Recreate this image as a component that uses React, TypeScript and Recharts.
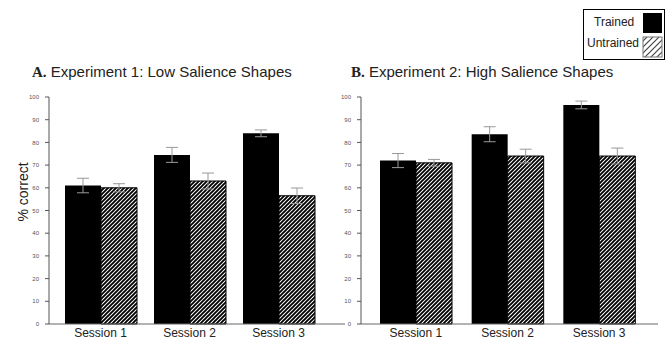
import React from "react";
import { BarChart, Bar, XAxis, YAxis, ErrorBar } from "recharts";

const sessions = ["Session 1", "Session 2", "Session 3"];

const exp1Trained = [61, 74.5, 84];
const exp1TrainedErr = [3.2, 3.3, 1.5];
const exp1Untrained = [60, 63, 56.5];
const exp1UntrainedErr = [1.8, 3.5, 3.4];

const exp2Trained = [72, 83.6, 96.5];
const exp2TrainedErr = [3.1, 3.3, 1.7];
const exp2Untrained = [71, 74, 74];
const exp2UntrainedErr = [1.5, 3, 3.5];

const yTicks = [0, 10, 20, 30, 40, 50, 60, 70, 80, 90, 100];

const SANS = "'Liberation Sans', Arial, sans-serif";
const SERIF = "'Liberation Serif', 'Times New Roman', serif";

function rows(t: number[], te: number[], u: number[], ue: number[]) {
  return sessions.map((s, i) => ({
    session: s,
    trained: t[i],
    trainedErr: te[i],
    untrained: u[i],
    untrainedErr: ue[i],
  }));
}

// "/" stripes, pixel aligned so they stay black and white
function Hatch({ id, size = 4, ink = 1.9, color = "#000" }: { id: string; size?: number; ink?: number; color?: string }) {
  const s = size;
  return (
    <defs>
      <pattern id={id} width={s} height={s} patternUnits="userSpaceOnUse">
        <rect width={s} height={s} fill="#fff" />
        <path
          d={`M0,${s} L${s},0 M${-s / 2},${s / 2} L${s / 2},${-s / 2} M${s / 2},${s * 1.5} L${s * 1.5},${s / 2}`}
          stroke={color}
          strokeWidth={ink}
        />
      </pattern>
    </defs>
  );
}

function Panel({
  data,
  id,
  left,
  margin,
  padding,
}: {
  data: ReturnType<typeof rows>;
  id: string;
  left: number;
  margin: { top: number; right: number; bottom: number; left: number };
  padding: { left: number; right: number };
}) {
  return (
    <div style={{ position: "absolute", left, top: 0 }}>
      <BarChart width={360} height={341} data={data} margin={margin} barGap={0}>
        <Hatch id={id} />
        <XAxis
          dataKey="session"
          height={17}
          padding={padding}
          tickLine={false}
          tickSize={0}
          tickMargin={4}
          stroke="#666"
          tick={{ fill: "#222", fontSize: 12, fontFamily: SANS }}
        />
        <YAxis
          domain={[0, 100]}
          ticks={yTicks}
          width={30}
          tickSize={4}
          tickMargin={6}
          stroke="#555"
          tick={{ fill: "#555", fontSize: 6, fontFamily: SANS }}
        />
        <Bar dataKey="trained" fill="#000" barSize={36} isAnimationActive={false}>
          <ErrorBar dataKey="trainedErr" width={6} stroke="#999" strokeWidth={1} />
        </Bar>
        <Bar
          dataKey="untrained"
          fill={`url(#${id})`}
          stroke="#000"
          strokeWidth={1}
          barSize={36}
          isAnimationActive={false}
        >
          <ErrorBar dataKey="untrainedErr" width={6} stroke="#999" strokeWidth={1} />
        </Bar>
      </BarChart>
    </div>
  );
}

function Title({ letter, text, left }: { letter: string; text: string; left: number }) {
  return (
    <div
      style={{
        position: "absolute",
        left,
        top: 63,
        lineHeight: "18px",
        fontSize: 15,
        color: "#222",
        whiteSpace: "nowrap",
      }}
    >
      <span style={{ fontFamily: SERIF, fontWeight: "bold" }}>{letter}</span>
      <span style={{ fontFamily: SANS }}>{text}</span>
    </div>
  );
}

export default function App() {
  const d1 = rows(exp1Trained, exp1TrainedErr, exp1Untrained, exp1UntrainedErr);
  const d2 = rows(exp2Trained, exp2TrainedErr, exp2Untrained, exp2UntrainedErr);
  return (
    <div
      style={{
        position: "absolute",
        left: 0,
        top: 0,
        width: 667,
        height: 341,
        background: "#fff",
        overflow: "hidden",
      }}
    >
      <Panel
        data={d1}
        id="hatchA"
        left={0}
        margin={{ top: 97, right: 15, bottom: 0, left: 19 }}
        padding={{ left: 7, right: 22 }}
      />
      <Panel
        data={d2}
        id="hatchB"
        left={307}
        margin={{ top: 97, right: 9, bottom: 0, left: 24 }}
        padding={{ left: 9, right: 13 }}
      />
      <div
        style={{
          position: "absolute",
          left: 23,
          top: 192,
          transform: "translate(-50%, -50%) rotate(-90deg)",
          fontFamily: SANS,
          fontSize: 14,
          color: "#222",
          whiteSpace: "nowrap",
        }}
      >
        % correct
      </div>
      <Title letter="A." text=" Experiment 1: Low Salience Shapes" left={32} />
      <Title letter="B." text=" Experiment 2: High Salience Shapes" left={351} />

      <div
        style={{
          position: "absolute",
          left: 583,
          top: 9,
          width: 80,
          height: 49,
          border: "1px solid #000",
          fontFamily: SANS,
          fontSize: 12,
          color: "#222",
        }}
      >
        <div style={{ position: "absolute", left: 10, top: 5 }}>Trained</div>
        <div style={{ position: "absolute", left: 3, top: 26 }}>Untrained</div>
        <svg width={22} height={46} style={{ position: "absolute", left: 58, top: 2 }}>
          <Hatch id="hatchLegend" size={6} ink={1.2} color="#444" />
          <rect x={1} y={1} width={19} height={20} fill="#000" />
          <rect x={1} y={25} width={19} height={20} fill="url(#hatchLegend)" stroke="#777" strokeWidth={1} />
        </svg>
      </div>
    </div>
  );
}
